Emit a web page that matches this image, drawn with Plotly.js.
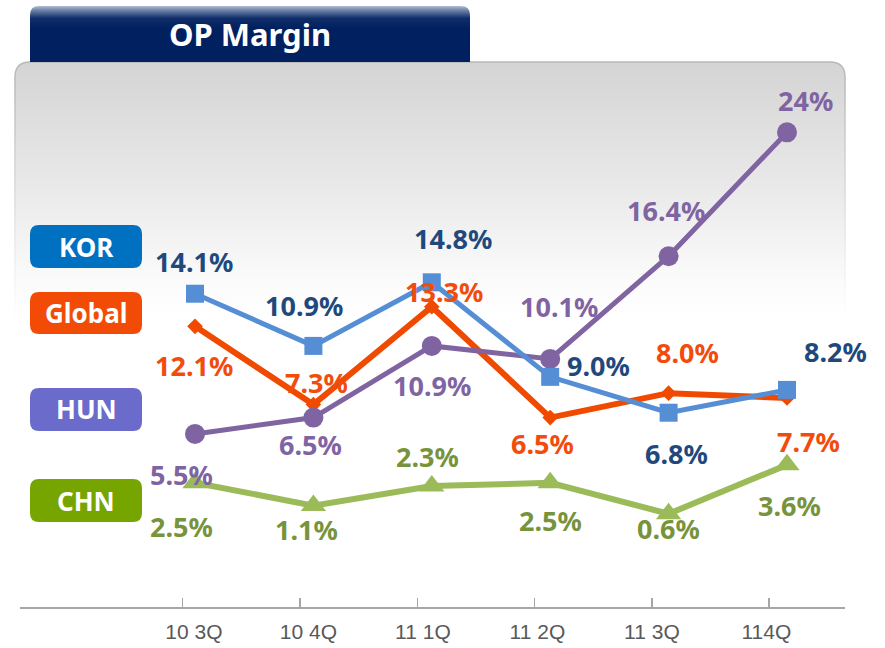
<!DOCTYPE html>
<html>
<head>
<meta charset="utf-8">
<script src="https://cdn.plot.ly/plotly-3.0.1.min.js"></script>
<style>
html, body { margin: 0; padding: 0; background: #ffffff; }
#chart { width: 885px; height: 648px; }
</style>
</head>
<body>
<div id="chart"></div>
<script>
// ---------------- DATA ----------------
const chartTitle = 'OP Margin';
const quarters = ['10 3Q', '10 4Q', '11 1Q', '11 2Q', '11 3Q', '114Q'];
const seriesNames = ['KOR', 'Global', 'HUN', 'CHN'];
const korValues = [14.1, 10.9, 14.8, 9.0, 6.8, 8.2];
const globalValues = [12.1, 7.3, 13.3, 6.5, 8.0, 7.7];
const hunValues = [5.5, 6.5, 10.9, 10.1, 16.4, 24];
const chnValues = [2.5, 1.1, 2.3, 2.5, 0.6, 3.6];

// ---------------- STYLE / LAYOUT ----------------
const W = 885, H = 648;
const M = { l: 20, r: 40, t: 60, b: 41 };
const PW = W - M.l - M.r, PH = H - M.t - M.b;
const px = x => (x - M.l) / PW;          // pixel -> paper x
const py = y => (H - M.b - y) / PH;      // pixel -> paper y

// label offsets (dx right, dy down) in pixels, per point
const korOffsets = [[-1, -32], [-9, -40], [21, -44], [48, -11], [8, 41], [48, -38]];
const globalOffsets = [[-1, 39], [3, -22], [12, -15], [-8, 26], [19, -41], [21, 43]];
const hunOffsets = [[-14, 41], [-3, 27], [0, 40], [9, -52], [-3, -46], [18, -32]];
const chnOffsets = [[-14, 44], [-7, 24], [-4, -30], [0, 38], [0, 15], [2, 41]];

const styles = {
  KOR:    { line: '#558ed5', width: 5, symbol: 'square',      size: 18, label: '#1f497d', offsets: korOffsets,    box: '#0070c0', boxY: [225, 268] },
  Global: { line: '#f04a00', width: 6, symbol: 'diamond',     size: 12, label: '#f24c0c', offsets: globalOffsets, box: '#f24b05', boxY: [292, 334] },
  HUN:    { line: '#8064a2', width: 5, symbol: 'circle',      size: 20, label: '#8064a2', offsets: hunOffsets,    box: '#6b6bcc', boxY: [388, 431] },
  CHN:    { line: '#9bbb59', width: 6, symbol: 'triangle-up', size: 22, label: '#77933c', offsets: chnOffsets,    box: '#76a500', boxY: [479, 522] }
};
const valuesByName = { KOR: korValues, Global: globalValues, HUN: hunValues, CHN: chnValues };
const drawOrder = ['Global', 'CHN', 'HUN', 'KOR'];

const fmt = v => (v >= 20 ? v.toFixed(0) : v.toFixed(1)) + '%';
const labelFont = 'Noto Sans, Open Sans, DejaVu Sans, sans-serif';

// ---------------- TRACES ----------------
const traces = drawOrder.map(name => {
  const s = styles[name];
  return {
    type: 'scatter', mode: 'lines+markers', name: name,
    x: quarters, y: valuesByName[name], xaxis: 'x', yaxis: 'y',
    line: { color: s.line, width: s.width },
    marker: { symbol: s.symbol, size: s.size, color: s.line, line: { width: 0 } },
    hoverinfo: 'skip', showlegend: false, cliponaxis: false
  };
});
// invisible helper traces so the tick axis and the label axis exist
['x2', 'x3'].forEach(ax => traces.push({
  type: 'scatter', mode: 'markers', x: quarters.map((_, i) => i), y: quarters.map(() => null),
  xaxis: ax, yaxis: 'y', marker: { opacity: 0 }, hoverinfo: 'skip', showlegend: false
}));

// ---------------- ANNOTATIONS ----------------
const annotations = [];
seriesNames.forEach(name => {
  const s = styles[name];
  valuesByName[name].forEach((v, i) => {
    annotations.push({
      xref: 'x', yref: 'y', x: quarters[i], y: v, text: fmt(v), showarrow: false,
      xanchor: 'center', yanchor: 'middle',
      xshift: s.offsets[i][0], yshift: -s.offsets[i][1],
      font: { family: labelFont, size: 27, weight: 'bold', color: s.label }
    });
  });
  // legend box text
  annotations.push({
    xref: 'paper', yref: 'paper', x: px(86), y: py((s.boxY[0] + s.boxY[1]) / 2),
    text: name, showarrow: false, xanchor: 'center', yanchor: 'middle',
    font: { family: labelFont, size: 26, weight: 'bold', color: '#ffffff' }
  });
});

// ---------------- SHAPES (legend boxes) ----------------
function roundRect(x0, y0, x1, y1, r) {
  const P = (x, y) => px(x) + ',' + py(y);
  return 'M' + P(x0 + r, y0) + ' L' + P(x1 - r, y0) + ' Q' + P(x1, y0) + ' ' + P(x1, y0 + r) +
    ' L' + P(x1, y1 - r) + ' Q' + P(x1, y1) + ' ' + P(x1 - r, y1) +
    ' L' + P(x0 + r, y1) + ' Q' + P(x0, y1) + ' ' + P(x0, y1 - r) +
    ' L' + P(x0, y0 + r) + ' Q' + P(x0, y0) + ' ' + P(x0 + r, y0) + ' Z';
}
const shapes = seriesNames.map(name => ({
  type: 'path', xref: 'paper', yref: 'paper', layer: 'above',
  path: roundRect(30, styles[name].boxY[0], 142, styles[name].boxY[1], 9),
  fillcolor: styles[name].box, line: { width: 0 }
}));

// ---------------- IMAGES (panel + title tab) ----------------
const panelSvg = '<svg xmlns="http://www.w3.org/2000/svg" width="832" height="260" viewBox="0 0 832 260" preserveAspectRatio="none">' +
  '<defs><linearGradient id="g" x1="0" y1="0" x2="0" y2="1">' +
  '<stop offset="0" stop-color="#d4d4d4"/><stop offset="0.5" stop-color="#eaeaea"/><stop offset="0.85" stop-color="#fbfbfb"/><stop offset="1" stop-color="#ffffff"/></linearGradient>' +
  '<linearGradient id="s" x1="0" y1="0" x2="0" y2="1"><stop offset="0" stop-color="#b8b8b8"/><stop offset="0.8" stop-color="#f2f2f2"/><stop offset="1" stop-color="#ffffff"/></linearGradient></defs>' +
  '<path d="M1,260 V16 Q1,1 16,1 H816 Q831,1 831,16 V260" fill="url(#g)" stroke="url(#s)" stroke-width="1.6"/></svg>';
const tabSvg = '<svg xmlns="http://www.w3.org/2000/svg" width="440" height="56" viewBox="0 0 440 56" preserveAspectRatio="none">' +
  '<defs><linearGradient id="t" x1="0" y1="0" x2="0" y2="1">' +
  '<stop offset="0" stop-color="#b3bdd3"/><stop offset="0.08" stop-color="#6d80a8"/><stop offset="0.22" stop-color="#0f2d68"/><stop offset="0.4" stop-color="#00205f"/><stop offset="1" stop-color="#00205f"/></linearGradient></defs>' +
  '<path d="M0,56 V9 Q0,0 9,0 H431 Q440,0 440,9 V56 Z" fill="url(#t)"/></svg>';
const svgUri = s => 'data:image/svg+xml;charset=utf-8,' + encodeURIComponent(s);
const images = [
  { source: svgUri(panelSvg), xref: 'paper', yref: 'paper', x: px(14), y: py(61),
    sizex: 832 / PW, sizey: 260 / PH, xanchor: 'left', yanchor: 'top', sizing: 'stretch', layer: 'below' },
  { source: svgUri(tabSvg), xref: 'paper', yref: 'paper', x: px(30), y: py(6),
    sizex: 440 / PW, sizey: 56 / PH, xanchor: 'left', yanchor: 'top', sizing: 'stretch', layer: 'below' }
];

// ---------------- AXES ----------------
const axisColor = '#a6a6a6';
const dataStep = 118.4, dataX0 = 195;      // px of first category, px per category
const tickStep = 117.3, tickX0 = 182.7;
const labStep = 114.5, labX0 = 193.9;
const rangeFor = (x0, step) => { const r0 = -(x0 - M.l) / step; return [r0, r0 + PW / step]; };

const layout = {
  width: W, height: H, margin: M,
  paper_bgcolor: '#ffffff', plot_bgcolor: 'rgba(0,0,0,0)',
  showlegend: false, hovermode: false,
  title: {
    text: chartTitle, xref: 'container', yref: 'container', x: 250 / W, xanchor: 'center',
    y: 1 - 35 / H, yanchor: 'middle',
    font: { family: labelFont, size: 31, weight: 'bold', color: '#ffffff' }
  },
  xaxis: {
    type: 'category', range: rangeFor(dataX0, dataStep), visible: false,
    showgrid: false, zeroline: false, fixedrange: true
  },
  xaxis2: {
    overlaying: 'x', anchor: 'y', side: 'bottom', type: 'linear', range: rangeFor(tickX0, tickStep),
    tickmode: 'array', tickvals: quarters.map((_, i) => i), ticktext: quarters.map(() => ''),
    ticks: 'inside', ticklen: 9, tickwidth: 1.5, tickcolor: axisColor,
    showline: true, linecolor: axisColor, linewidth: 2,
    showticklabels: false, showgrid: false, zeroline: false, fixedrange: true
  },
  xaxis3: {
    overlaying: 'x', anchor: 'y', side: 'bottom', type: 'linear', range: rangeFor(labX0, labStep),
    tickmode: 'array', tickvals: quarters.map((_, i) => i), ticktext: quarters,
    ticks: '', showline: false, showgrid: false, zeroline: false, fixedrange: true,
    ticklabelstandoff: 10,
    tickfont: { family: 'Liberation Sans, Arial, sans-serif', size: 21, color: '#595959' }
  },
  yaxis: {
    range: [-5.12, 28.44], visible: false, showgrid: false, zeroline: false, fixedrange: true
  },
  annotations: annotations,
  shapes: shapes,
  images: images
};

Plotly.newPlot('chart', traces, layout, { staticPlot: true, displayModeBar: false });
</script>
</body>
</html>
